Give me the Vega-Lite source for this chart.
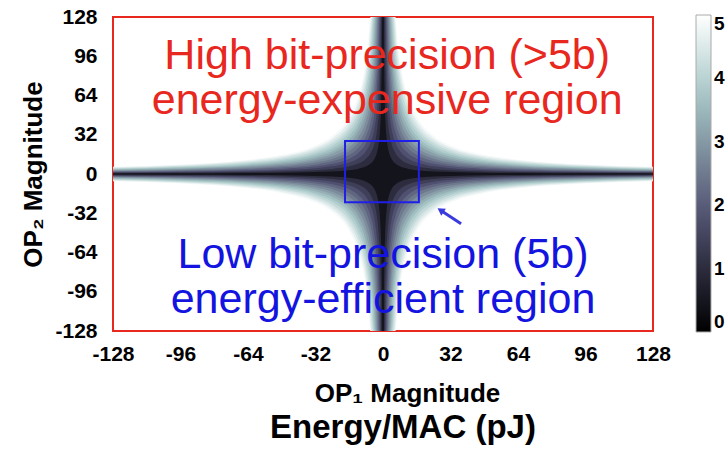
{
"$schema":"https://vega.github.io/schema/vega-lite/v6.json",
"width":540,"height":314,
"autosize":{"type":"none"},
"padding":{"left":113,"top":17,"right":75,"bottom":120},
"background":"white",
"config":{"view":{"stroke":"#e8281e","strokeWidth":2},"font":"Liberation Sans",
 "axis":{"labelOverlap":false,"labelFlush":false,"labelBound":false,"ticks":false,"domain":false,"grid":false,"labelFontWeight":"bold","labelColor":"#000000","labelFontSize":21,"titleFontWeight":"bold","titleColor":"#000000","titleFontSize":26}},
"title":{"text":"Energy/MAC (pJ)","orient":"bottom","anchor":"middle","frame":"group","fontSize":33,"fontWeight":"bold","font":"Liberation Sans","color":"#000000","offset":6,"baseline":"top","dx":20},
"datasets":{"h":[
{"v":4.88,"x":5.86,"y":128,"n":-128},{"v":4.88,"x":7.5,"y":100,"n":-100},{"v":4.88,"x":10,"y":75,"n":-75},{"v":4.88,"x":12,"y":62.5,"n":-62.5},{"v":4.88,"x":16,"y":46.88,"n":-46.88},{"v":4.88,"x":24,"y":31.25,"n":-31.25},{"v":4.88,"x":32,"y":23.44,"n":-23.44},{"v":4.88,"x":48,"y":15.63,"n":-15.63},{"v":4.88,"x":64,"y":11.72,"n":-11.72},{"v":4.88,"x":96,"y":7.81,"n":-7.81},{"v":4.88,"x":128,"y":5.86,"n":-5.86},
{"v":4.88,"x":-5.86,"y":128,"n":-128},{"v":4.88,"x":-7.5,"y":100,"n":-100},{"v":4.88,"x":-10,"y":75,"n":-75},{"v":4.88,"x":-12,"y":62.5,"n":-62.5},{"v":4.88,"x":-16,"y":46.88,"n":-46.88},{"v":4.88,"x":-24,"y":31.25,"n":-31.25},{"v":4.88,"x":-32,"y":23.44,"n":-23.44},{"v":4.88,"x":-48,"y":15.63,"n":-15.63},{"v":4.88,"x":-64,"y":11.72,"n":-11.72},{"v":4.88,"x":-96,"y":7.81,"n":-7.81},{"v":4.88,"x":-128,"y":5.86,"n":-5.86},
{"v":4.65,"x":5.47,"y":128,"n":-128},{"v":4.65,"x":7,"y":100,"n":-100},{"v":4.65,"x":8,"y":87.5,"n":-87.5},{"v":4.65,"x":12,"y":58.33,"n":-58.33},{"v":4.65,"x":16,"y":43.75,"n":-43.75},{"v":4.65,"x":24,"y":29.17,"n":-29.17},{"v":4.65,"x":32,"y":21.88,"n":-21.88},{"v":4.65,"x":48,"y":14.58,"n":-14.58},{"v":4.65,"x":64,"y":10.94,"n":-10.94},{"v":4.65,"x":96,"y":7.29,"n":-7.29},{"v":4.65,"x":128,"y":5.47,"n":-5.47},
{"v":4.65,"x":-5.47,"y":128,"n":-128},{"v":4.65,"x":-7,"y":100,"n":-100},{"v":4.65,"x":-8,"y":87.5,"n":-87.5},{"v":4.65,"x":-12,"y":58.33,"n":-58.33},{"v":4.65,"x":-16,"y":43.75,"n":-43.75},{"v":4.65,"x":-24,"y":29.17,"n":-29.17},{"v":4.65,"x":-32,"y":21.88,"n":-21.88},{"v":4.65,"x":-48,"y":14.58,"n":-14.58},{"v":4.65,"x":-64,"y":10.94,"n":-10.94},{"v":4.65,"x":-96,"y":7.29,"n":-7.29},{"v":4.65,"x":-128,"y":5.47,"n":-5.47},
{"v":4.4,"x":5.08,"y":128,"n":-128},{"v":4.4,"x":6.5,"y":100,"n":-100},{"v":4.4,"x":8,"y":81.25,"n":-81.25},{"v":4.4,"x":12,"y":54.17,"n":-54.17},{"v":4.4,"x":16,"y":40.63,"n":-40.63},{"v":4.4,"x":24,"y":27.08,"n":-27.08},{"v":4.4,"x":32,"y":20.31,"n":-20.31},{"v":4.4,"x":48,"y":13.54,"n":-13.54},{"v":4.4,"x":64,"y":10.16,"n":-10.16},{"v":4.4,"x":96,"y":6.77,"n":-6.77},{"v":4.4,"x":128,"y":5.08,"n":-5.08},
{"v":4.4,"x":-5.08,"y":128,"n":-128},{"v":4.4,"x":-6.5,"y":100,"n":-100},{"v":4.4,"x":-8,"y":81.25,"n":-81.25},{"v":4.4,"x":-12,"y":54.17,"n":-54.17},{"v":4.4,"x":-16,"y":40.63,"n":-40.63},{"v":4.4,"x":-24,"y":27.08,"n":-27.08},{"v":4.4,"x":-32,"y":20.31,"n":-20.31},{"v":4.4,"x":-48,"y":13.54,"n":-13.54},{"v":4.4,"x":-64,"y":10.16,"n":-10.16},{"v":4.4,"x":-96,"y":6.77,"n":-6.77},{"v":4.4,"x":-128,"y":5.08,"n":-5.08},
{"v":4.15,"x":4.69,"y":128,"n":-128},{"v":4.15,"x":6,"y":100,"n":-100},{"v":4.15,"x":8,"y":75,"n":-75},{"v":4.15,"x":12,"y":50,"n":-50},{"v":4.15,"x":16,"y":37.5,"n":-37.5},{"v":4.15,"x":24,"y":25,"n":-25},{"v":4.15,"x":32,"y":18.75,"n":-18.75},{"v":4.15,"x":48,"y":12.5,"n":-12.5},{"v":4.15,"x":64,"y":9.38,"n":-9.38},{"v":4.15,"x":96,"y":6.25,"n":-6.25},{"v":4.15,"x":128,"y":4.69,"n":-4.69},
{"v":4.15,"x":-4.69,"y":128,"n":-128},{"v":4.15,"x":-6,"y":100,"n":-100},{"v":4.15,"x":-8,"y":75,"n":-75},{"v":4.15,"x":-12,"y":50,"n":-50},{"v":4.15,"x":-16,"y":37.5,"n":-37.5},{"v":4.15,"x":-24,"y":25,"n":-25},{"v":4.15,"x":-32,"y":18.75,"n":-18.75},{"v":4.15,"x":-48,"y":12.5,"n":-12.5},{"v":4.15,"x":-64,"y":9.38,"n":-9.38},{"v":4.15,"x":-96,"y":6.25,"n":-6.25},{"v":4.15,"x":-128,"y":4.69,"n":-4.69},
{"v":3.89,"x":4.3,"y":128,"n":-128},{"v":3.89,"x":5.5,"y":100,"n":-100},{"v":3.89,"x":8,"y":68.75,"n":-68.75},{"v":3.89,"x":12,"y":45.83,"n":-45.83},{"v":3.89,"x":16,"y":34.38,"n":-34.38},{"v":3.89,"x":24,"y":22.92,"n":-22.92},{"v":3.89,"x":32,"y":17.19,"n":-17.19},{"v":3.89,"x":48,"y":11.46,"n":-11.46},{"v":3.89,"x":64,"y":8.59,"n":-8.59},{"v":3.89,"x":96,"y":5.73,"n":-5.73},{"v":3.89,"x":128,"y":4.3,"n":-4.3},
{"v":3.89,"x":-4.3,"y":128,"n":-128},{"v":3.89,"x":-5.5,"y":100,"n":-100},{"v":3.89,"x":-8,"y":68.75,"n":-68.75},{"v":3.89,"x":-12,"y":45.83,"n":-45.83},{"v":3.89,"x":-16,"y":34.38,"n":-34.38},{"v":3.89,"x":-24,"y":22.92,"n":-22.92},{"v":3.89,"x":-32,"y":17.19,"n":-17.19},{"v":3.89,"x":-48,"y":11.46,"n":-11.46},{"v":3.89,"x":-64,"y":8.59,"n":-8.59},{"v":3.89,"x":-96,"y":5.73,"n":-5.73},{"v":3.89,"x":-128,"y":4.3,"n":-4.3},
{"v":3.63,"x":3.91,"y":128,"n":-128},{"v":3.63,"x":5,"y":100,"n":-100},{"v":3.63,"x":6,"y":83.33,"n":-83.33},{"v":3.63,"x":8,"y":62.5,"n":-62.5},{"v":3.63,"x":12,"y":41.67,"n":-41.67},{"v":3.63,"x":16,"y":31.25,"n":-31.25},{"v":3.63,"x":24,"y":20.83,"n":-20.83},{"v":3.63,"x":32,"y":15.63,"n":-15.63},{"v":3.63,"x":48,"y":10.42,"n":-10.42},{"v":3.63,"x":64,"y":7.81,"n":-7.81},{"v":3.63,"x":96,"y":5.21,"n":-5.21},{"v":3.63,"x":128,"y":3.91,"n":-3.91},
{"v":3.63,"x":-3.91,"y":128,"n":-128},{"v":3.63,"x":-5,"y":100,"n":-100},{"v":3.63,"x":-6,"y":83.33,"n":-83.33},{"v":3.63,"x":-8,"y":62.5,"n":-62.5},{"v":3.63,"x":-12,"y":41.67,"n":-41.67},{"v":3.63,"x":-16,"y":31.25,"n":-31.25},{"v":3.63,"x":-24,"y":20.83,"n":-20.83},{"v":3.63,"x":-32,"y":15.63,"n":-15.63},{"v":3.63,"x":-48,"y":10.42,"n":-10.42},{"v":3.63,"x":-64,"y":7.81,"n":-7.81},{"v":3.63,"x":-96,"y":5.21,"n":-5.21},{"v":3.63,"x":-128,"y":3.91,"n":-3.91},
{"v":3.36,"x":3.52,"y":128,"n":-128},{"v":3.36,"x":4.5,"y":100,"n":-100},{"v":3.36,"x":6,"y":75,"n":-75},{"v":3.36,"x":8,"y":56.25,"n":-56.25},{"v":3.36,"x":12,"y":37.5,"n":-37.5},{"v":3.36,"x":16,"y":28.13,"n":-28.13},{"v":3.36,"x":24,"y":18.75,"n":-18.75},{"v":3.36,"x":32,"y":14.06,"n":-14.06},{"v":3.36,"x":48,"y":9.38,"n":-9.38},{"v":3.36,"x":64,"y":7.03,"n":-7.03},{"v":3.36,"x":96,"y":4.69,"n":-4.69},{"v":3.36,"x":128,"y":3.52,"n":-3.52},
{"v":3.36,"x":-3.52,"y":128,"n":-128},{"v":3.36,"x":-4.5,"y":100,"n":-100},{"v":3.36,"x":-6,"y":75,"n":-75},{"v":3.36,"x":-8,"y":56.25,"n":-56.25},{"v":3.36,"x":-12,"y":37.5,"n":-37.5},{"v":3.36,"x":-16,"y":28.13,"n":-28.13},{"v":3.36,"x":-24,"y":18.75,"n":-18.75},{"v":3.36,"x":-32,"y":14.06,"n":-14.06},{"v":3.36,"x":-48,"y":9.38,"n":-9.38},{"v":3.36,"x":-64,"y":7.03,"n":-7.03},{"v":3.36,"x":-96,"y":4.69,"n":-4.69},{"v":3.36,"x":-128,"y":3.52,"n":-3.52},
{"v":3.08,"x":3.13,"y":128,"n":-128},{"v":3.08,"x":4,"y":100,"n":-100},{"v":3.08,"x":5,"y":80,"n":-80},{"v":3.08,"x":6,"y":66.67,"n":-66.67},{"v":3.08,"x":8,"y":50,"n":-50},{"v":3.08,"x":12,"y":33.33,"n":-33.33},{"v":3.08,"x":16,"y":25,"n":-25},{"v":3.08,"x":24,"y":16.67,"n":-16.67},{"v":3.08,"x":32,"y":12.5,"n":-12.5},{"v":3.08,"x":48,"y":8.33,"n":-8.33},{"v":3.08,"x":64,"y":6.25,"n":-6.25},{"v":3.08,"x":96,"y":4.17,"n":-4.17},{"v":3.08,"x":128,"y":3.13,"n":-3.13},
{"v":3.08,"x":-3.13,"y":128,"n":-128},{"v":3.08,"x":-4,"y":100,"n":-100},{"v":3.08,"x":-5,"y":80,"n":-80},{"v":3.08,"x":-6,"y":66.67,"n":-66.67},{"v":3.08,"x":-8,"y":50,"n":-50},{"v":3.08,"x":-12,"y":33.33,"n":-33.33},{"v":3.08,"x":-16,"y":25,"n":-25},{"v":3.08,"x":-24,"y":16.67,"n":-16.67},{"v":3.08,"x":-32,"y":12.5,"n":-12.5},{"v":3.08,"x":-48,"y":8.33,"n":-8.33},{"v":3.08,"x":-64,"y":6.25,"n":-6.25},{"v":3.08,"x":-96,"y":4.17,"n":-4.17},{"v":3.08,"x":-128,"y":3.13,"n":-3.13},
{"v":2.79,"x":2.73,"y":128,"n":-128},{"v":2.79,"x":3.5,"y":100,"n":-100},{"v":2.79,"x":4,"y":87.5,"n":-87.5},{"v":2.79,"x":6,"y":58.33,"n":-58.33},{"v":2.79,"x":8,"y":43.75,"n":-43.75},{"v":2.79,"x":12,"y":29.17,"n":-29.17},{"v":2.79,"x":16,"y":21.88,"n":-21.88},{"v":2.79,"x":24,"y":14.58,"n":-14.58},{"v":2.79,"x":32,"y":10.94,"n":-10.94},{"v":2.79,"x":48,"y":7.29,"n":-7.29},{"v":2.79,"x":64,"y":5.47,"n":-5.47},{"v":2.79,"x":96,"y":3.65,"n":-3.65},{"v":2.79,"x":128,"y":2.73,"n":-2.73},
{"v":2.79,"x":-2.73,"y":128,"n":-128},{"v":2.79,"x":-3.5,"y":100,"n":-100},{"v":2.79,"x":-4,"y":87.5,"n":-87.5},{"v":2.79,"x":-6,"y":58.33,"n":-58.33},{"v":2.79,"x":-8,"y":43.75,"n":-43.75},{"v":2.79,"x":-12,"y":29.17,"n":-29.17},{"v":2.79,"x":-16,"y":21.88,"n":-21.88},{"v":2.79,"x":-24,"y":14.58,"n":-14.58},{"v":2.79,"x":-32,"y":10.94,"n":-10.94},{"v":2.79,"x":-48,"y":7.29,"n":-7.29},{"v":2.79,"x":-64,"y":5.47,"n":-5.47},{"v":2.79,"x":-96,"y":3.65,"n":-3.65},{"v":2.79,"x":-128,"y":2.73,"n":-2.73},
{"v":2.48,"x":2.34,"y":128,"n":-128},{"v":2.48,"x":3,"y":100,"n":-100},{"v":2.48,"x":4,"y":75,"n":-75},{"v":2.48,"x":6,"y":50,"n":-50},{"v":2.48,"x":8,"y":37.5,"n":-37.5},{"v":2.48,"x":12,"y":25,"n":-25},{"v":2.48,"x":16,"y":18.75,"n":-18.75},{"v":2.48,"x":24,"y":12.5,"n":-12.5},{"v":2.48,"x":32,"y":9.38,"n":-9.38},{"v":2.48,"x":48,"y":6.25,"n":-6.25},{"v":2.48,"x":64,"y":4.69,"n":-4.69},{"v":2.48,"x":96,"y":3.13,"n":-3.13},{"v":2.48,"x":128,"y":2.34,"n":-2.34},
{"v":2.48,"x":-2.34,"y":128,"n":-128},{"v":2.48,"x":-3,"y":100,"n":-100},{"v":2.48,"x":-4,"y":75,"n":-75},{"v":2.48,"x":-6,"y":50,"n":-50},{"v":2.48,"x":-8,"y":37.5,"n":-37.5},{"v":2.48,"x":-12,"y":25,"n":-25},{"v":2.48,"x":-16,"y":18.75,"n":-18.75},{"v":2.48,"x":-24,"y":12.5,"n":-12.5},{"v":2.48,"x":-32,"y":9.38,"n":-9.38},{"v":2.48,"x":-48,"y":6.25,"n":-6.25},{"v":2.48,"x":-64,"y":4.69,"n":-4.69},{"v":2.48,"x":-96,"y":3.13,"n":-3.13},{"v":2.48,"x":-128,"y":2.34,"n":-2.34},
{"v":2.15,"x":1.95,"y":128,"n":-128},{"v":2.15,"x":2.5,"y":100,"n":-100},{"v":2.15,"x":3,"y":83.33,"n":-83.33},{"v":2.15,"x":4,"y":62.5,"n":-62.5},{"v":2.15,"x":6,"y":41.67,"n":-41.67},{"v":2.15,"x":8,"y":31.25,"n":-31.25},{"v":2.15,"x":12,"y":20.83,"n":-20.83},{"v":2.15,"x":16,"y":15.63,"n":-15.63},{"v":2.15,"x":24,"y":10.42,"n":-10.42},{"v":2.15,"x":32,"y":7.81,"n":-7.81},{"v":2.15,"x":48,"y":5.21,"n":-5.21},{"v":2.15,"x":64,"y":3.91,"n":-3.91},{"v":2.15,"x":96,"y":2.6,"n":-2.6},{"v":2.15,"x":128,"y":1.95,"n":-1.95},
{"v":2.15,"x":-1.95,"y":128,"n":-128},{"v":2.15,"x":-2.5,"y":100,"n":-100},{"v":2.15,"x":-3,"y":83.33,"n":-83.33},{"v":2.15,"x":-4,"y":62.5,"n":-62.5},{"v":2.15,"x":-6,"y":41.67,"n":-41.67},{"v":2.15,"x":-8,"y":31.25,"n":-31.25},{"v":2.15,"x":-12,"y":20.83,"n":-20.83},{"v":2.15,"x":-16,"y":15.63,"n":-15.63},{"v":2.15,"x":-24,"y":10.42,"n":-10.42},{"v":2.15,"x":-32,"y":7.81,"n":-7.81},{"v":2.15,"x":-48,"y":5.21,"n":-5.21},{"v":2.15,"x":-64,"y":3.91,"n":-3.91},{"v":2.15,"x":-96,"y":2.6,"n":-2.6},{"v":2.15,"x":-128,"y":1.95,"n":-1.95},
{"v":1.81,"x":1.56,"y":128,"n":-128},{"v":1.81,"x":2,"y":100,"n":-100},{"v":1.81,"x":3,"y":66.67,"n":-66.67},{"v":1.81,"x":4,"y":50,"n":-50},{"v":1.81,"x":6,"y":33.33,"n":-33.33},{"v":1.81,"x":8,"y":25,"n":-25},{"v":1.81,"x":12,"y":16.67,"n":-16.67},{"v":1.81,"x":16,"y":12.5,"n":-12.5},{"v":1.81,"x":24,"y":8.33,"n":-8.33},{"v":1.81,"x":32,"y":6.25,"n":-6.25},{"v":1.81,"x":48,"y":4.17,"n":-4.17},{"v":1.81,"x":64,"y":3.13,"n":-3.13},{"v":1.81,"x":96,"y":2.08,"n":-2.08},{"v":1.81,"x":128,"y":1.56,"n":-1.56},
{"v":1.81,"x":-1.56,"y":128,"n":-128},{"v":1.81,"x":-2,"y":100,"n":-100},{"v":1.81,"x":-3,"y":66.67,"n":-66.67},{"v":1.81,"x":-4,"y":50,"n":-50},{"v":1.81,"x":-6,"y":33.33,"n":-33.33},{"v":1.81,"x":-8,"y":25,"n":-25},{"v":1.81,"x":-12,"y":16.67,"n":-16.67},{"v":1.81,"x":-16,"y":12.5,"n":-12.5},{"v":1.81,"x":-24,"y":8.33,"n":-8.33},{"v":1.81,"x":-32,"y":6.25,"n":-6.25},{"v":1.81,"x":-48,"y":4.17,"n":-4.17},{"v":1.81,"x":-64,"y":3.13,"n":-3.13},{"v":1.81,"x":-96,"y":2.08,"n":-2.08},{"v":1.81,"x":-128,"y":1.56,"n":-1.56},
{"v":1.43,"x":1.17,"y":128,"n":-128},{"v":1.43,"x":1.5,"y":100,"n":-100},{"v":1.43,"x":2,"y":75,"n":-75},{"v":1.43,"x":3,"y":50,"n":-50},{"v":1.43,"x":4,"y":37.5,"n":-37.5},{"v":1.43,"x":6,"y":25,"n":-25},{"v":1.43,"x":8,"y":18.75,"n":-18.75},{"v":1.43,"x":12,"y":12.5,"n":-12.5},{"v":1.43,"x":16,"y":9.38,"n":-9.38},{"v":1.43,"x":24,"y":6.25,"n":-6.25},{"v":1.43,"x":32,"y":4.69,"n":-4.69},{"v":1.43,"x":48,"y":3.13,"n":-3.13},{"v":1.43,"x":64,"y":2.34,"n":-2.34},{"v":1.43,"x":96,"y":1.56,"n":-1.56},{"v":1.43,"x":128,"y":1.17,"n":-1.17},
{"v":1.43,"x":-1.17,"y":128,"n":-128},{"v":1.43,"x":-1.5,"y":100,"n":-100},{"v":1.43,"x":-2,"y":75,"n":-75},{"v":1.43,"x":-3,"y":50,"n":-50},{"v":1.43,"x":-4,"y":37.5,"n":-37.5},{"v":1.43,"x":-6,"y":25,"n":-25},{"v":1.43,"x":-8,"y":18.75,"n":-18.75},{"v":1.43,"x":-12,"y":12.5,"n":-12.5},{"v":1.43,"x":-16,"y":9.38,"n":-9.38},{"v":1.43,"x":-24,"y":6.25,"n":-6.25},{"v":1.43,"x":-32,"y":4.69,"n":-4.69},{"v":1.43,"x":-48,"y":3.13,"n":-3.13},{"v":1.43,"x":-64,"y":2.34,"n":-2.34},{"v":1.43,"x":-96,"y":1.56,"n":-1.56},{"v":1.43,"x":-128,"y":1.17,"n":-1.17},
{"v":1.0,"x":0.78,"y":128,"n":-128},{"v":1.0,"x":1,"y":100,"n":-100},{"v":1.0,"x":1.5,"y":66.67,"n":-66.67},{"v":1.0,"x":2,"y":50,"n":-50},{"v":1.0,"x":3,"y":33.33,"n":-33.33},{"v":1.0,"x":4,"y":25,"n":-25},{"v":1.0,"x":6,"y":16.67,"n":-16.67},{"v":1.0,"x":8,"y":12.5,"n":-12.5},{"v":1.0,"x":12,"y":8.33,"n":-8.33},{"v":1.0,"x":16,"y":6.25,"n":-6.25},{"v":1.0,"x":24,"y":4.17,"n":-4.17},{"v":1.0,"x":32,"y":3.13,"n":-3.13},{"v":1.0,"x":48,"y":2.08,"n":-2.08},{"v":1.0,"x":64,"y":1.56,"n":-1.56},{"v":1.0,"x":96,"y":1.04,"n":-1.04},{"v":1.0,"x":128,"y":0.78,"n":-0.78},
{"v":1.0,"x":-0.78,"y":128,"n":-128},{"v":1.0,"x":-1,"y":100,"n":-100},{"v":1.0,"x":-1.5,"y":66.67,"n":-66.67},{"v":1.0,"x":-2,"y":50,"n":-50},{"v":1.0,"x":-3,"y":33.33,"n":-33.33},{"v":1.0,"x":-4,"y":25,"n":-25},{"v":1.0,"x":-6,"y":16.67,"n":-16.67},{"v":1.0,"x":-8,"y":12.5,"n":-12.5},{"v":1.0,"x":-12,"y":8.33,"n":-8.33},{"v":1.0,"x":-16,"y":6.25,"n":-6.25},{"v":1.0,"x":-24,"y":4.17,"n":-4.17},{"v":1.0,"x":-32,"y":3.13,"n":-3.13},{"v":1.0,"x":-48,"y":2.08,"n":-2.08},{"v":1.0,"x":-64,"y":1.56,"n":-1.56},{"v":1.0,"x":-96,"y":1.04,"n":-1.04},{"v":1.0,"x":-128,"y":0.78,"n":-0.78},
{"v":0.46,"x":0.39,"y":128,"n":-128},{"v":0.46,"x":0.5,"y":100,"n":-100},{"v":0.46,"x":0.75,"y":66.67,"n":-66.67},{"v":0.46,"x":1,"y":50,"n":-50},{"v":0.46,"x":1.5,"y":33.33,"n":-33.33},{"v":0.46,"x":2,"y":25,"n":-25},{"v":0.46,"x":3,"y":16.67,"n":-16.67},{"v":0.46,"x":4,"y":12.5,"n":-12.5},{"v":0.46,"x":6,"y":8.33,"n":-8.33},{"v":0.46,"x":8,"y":6.25,"n":-6.25},{"v":0.46,"x":12,"y":4.17,"n":-4.17},{"v":0.46,"x":16,"y":3.13,"n":-3.13},{"v":0.46,"x":24,"y":2.08,"n":-2.08},{"v":0.46,"x":32,"y":1.56,"n":-1.56},{"v":0.46,"x":48,"y":1.04,"n":-1.04},{"v":0.46,"x":64,"y":0.78,"n":-0.78},{"v":0.46,"x":96,"y":0.52,"n":-0.52},{"v":0.46,"x":128,"y":0.39,"n":-0.39},
{"v":0.46,"x":-0.39,"y":128,"n":-128},{"v":0.46,"x":-0.5,"y":100,"n":-100},{"v":0.46,"x":-0.75,"y":66.67,"n":-66.67},{"v":0.46,"x":-1,"y":50,"n":-50},{"v":0.46,"x":-1.5,"y":33.33,"n":-33.33},{"v":0.46,"x":-2,"y":25,"n":-25},{"v":0.46,"x":-3,"y":16.67,"n":-16.67},{"v":0.46,"x":-4,"y":12.5,"n":-12.5},{"v":0.46,"x":-6,"y":8.33,"n":-8.33},{"v":0.46,"x":-8,"y":6.25,"n":-6.25},{"v":0.46,"x":-12,"y":4.17,"n":-4.17},{"v":0.46,"x":-16,"y":3.13,"n":-3.13},{"v":0.46,"x":-24,"y":2.08,"n":-2.08},{"v":0.46,"x":-32,"y":1.56,"n":-1.56},{"v":0.46,"x":-48,"y":1.04,"n":-1.04},{"v":0.46,"x":-64,"y":0.78,"n":-0.78},{"v":0.46,"x":-96,"y":0.52,"n":-0.52},{"v":0.46,"x":-128,"y":0.39,"n":-0.39}
]},
"layer":[
{"data":{"name":"h"},
 "encoding":{
  "x":{"field":"x","type":"quantitative","scale":{"domain":[-128,128],"nice":false,"zero":false},
       "axis":{"values":[-128,-96,-64,-32,0,32,64,96,128],"tickCount":20,"labelExpr":"'' + datum.value","labelOverlap":false,"title":"OP₁ Magnitude","titleFontSize":26,"labelPadding":12,"titleX":294,"titleY":70,"titleBaseline":"alphabetic","titleAlign":"center"}},
  "y":{"field":"y","type":"quantitative","stack":null,"scale":{"domain":[-128,128],"nice":false,"zero":false},
       "axis":{"values":[-128,-96,-64,-32,0,32,64,96,128],"tickCount":20,"labelExpr":"'' + datum.value","labelOverlap":false,"title":"OP₂ Magnitude","labelPadding":16,"titleX":-80,"titleY":157,"titleBaseline":"middle","titleAlign":"center","titleAngle":270}},
  "y2":{"field":"n"},
  "color":{"field":"v","type":"quantitative","scale":{"domain":[0,1.825,3.73,5],"range":["#000000","#515171","#a6c6c6","#ffffff"],"interpolate":"rgb"},
       "legend":{"orient":"none","legendX":583,"legendY":-2,"direction":"vertical","gradientLength":317,"gradientThickness":15,"title":null,"values":[0,1,2,3,4,5],"labelFontSize":19,"labelFontWeight":"bold","labelColor":"#000000","labelOffset":3,"gradientStrokeColor":"#aaaaaa","gradientStrokeWidth":1}}
 },
 "layer":[
  {"transform":[{"filter":"datum.v==4.88"}],"mark":{"type":"area","interpolate":"monotone","clip":true}},
  {"transform":[{"filter":"datum.v==4.65"}],"mark":{"type":"area","interpolate":"monotone","clip":true}},
  {"transform":[{"filter":"datum.v==4.4"}],"mark":{"type":"area","interpolate":"monotone","clip":true}},
  {"transform":[{"filter":"datum.v==4.15"}],"mark":{"type":"area","interpolate":"monotone","clip":true}},
  {"transform":[{"filter":"datum.v==3.89"}],"mark":{"type":"area","interpolate":"monotone","clip":true}},
  {"transform":[{"filter":"datum.v==3.63"}],"mark":{"type":"area","interpolate":"monotone","clip":true}},
  {"transform":[{"filter":"datum.v==3.36"}],"mark":{"type":"area","interpolate":"monotone","clip":true}},
  {"transform":[{"filter":"datum.v==3.08"}],"mark":{"type":"area","interpolate":"monotone","clip":true}},
  {"transform":[{"filter":"datum.v==2.79"}],"mark":{"type":"area","interpolate":"monotone","clip":true}},
  {"transform":[{"filter":"datum.v==2.48"}],"mark":{"type":"area","interpolate":"monotone","clip":true}},
  {"transform":[{"filter":"datum.v==2.15"}],"mark":{"type":"area","interpolate":"monotone","clip":true}},
  {"transform":[{"filter":"datum.v==1.81"}],"mark":{"type":"area","interpolate":"monotone","clip":true}},
  {"transform":[{"filter":"datum.v==1.43"}],"mark":{"type":"area","interpolate":"monotone","clip":true}},
  {"transform":[{"filter":"datum.v==1.0"}],"mark":{"type":"area","interpolate":"monotone","clip":true}},
  {"transform":[{"filter":"datum.v==0.46"}],"mark":{"type":"area","interpolate":"monotone","clip":true}}
 ]
},
{"data":{"values":[{"x1":-18,"x2":17,"y1":27,"y2":-23}]},
 "mark":{"type":"rect","fillOpacity":0,"stroke":"#1f1fe8","strokeWidth":2},
 "encoding":{"x":{"field":"x1","type":"quantitative"},"x2":{"field":"x2"},"y":{"field":"y1","type":"quantitative"},"y2":{"field":"y2"}}},
{"data":{"values":[{"x1":37,"y1":-40.5,"x2":28,"y2":-30.3}]},
 "mark":{"type":"rule","stroke":"#3a3ade","strokeWidth":3},
 "encoding":{"x":{"field":"x1","type":"quantitative"},"x2":{"field":"x2"},"y":{"field":"y1","type":"quantitative"},"y2":{"field":"y2"}}},
{"data":{"values":[{"x":27.3,"y":-29.5}]},
 "mark":{"type":"point","shape":"triangle-up","filled":true,"size":70,"angle":304,"color":"#3a3ade","opacity":1},
 "encoding":{"x":{"field":"x","type":"quantitative"},"y":{"field":"y","type":"quantitative"}}},
{"data":{"values":[{"t":"High bit-precision (>5b)","x":2,"y":86},{"t":"energy-expensive region","x":2,"y":49}]},
 "mark":{"type":"text","font":"Liberation Sans","fontSize":43,"color":"#e8281e","align":"center","baseline":"alphabetic"},
 "encoding":{"x":{"field":"x","type":"quantitative"},"y":{"field":"y","type":"quantitative"},"text":{"field":"t"}}},
{"data":{"values":[{"t":"Low bit-precision (5b)","x":0,"y":-77},{"t":"energy-efficient region","x":0,"y":-113}]},
 "mark":{"type":"text","font":"Liberation Sans","fontSize":43,"color":"#1414e0","align":"center","baseline":"alphabetic"},
 "encoding":{"x":{"field":"x","type":"quantitative"},"y":{"field":"y","type":"quantitative"},"text":{"field":"t"}}}
]
}
